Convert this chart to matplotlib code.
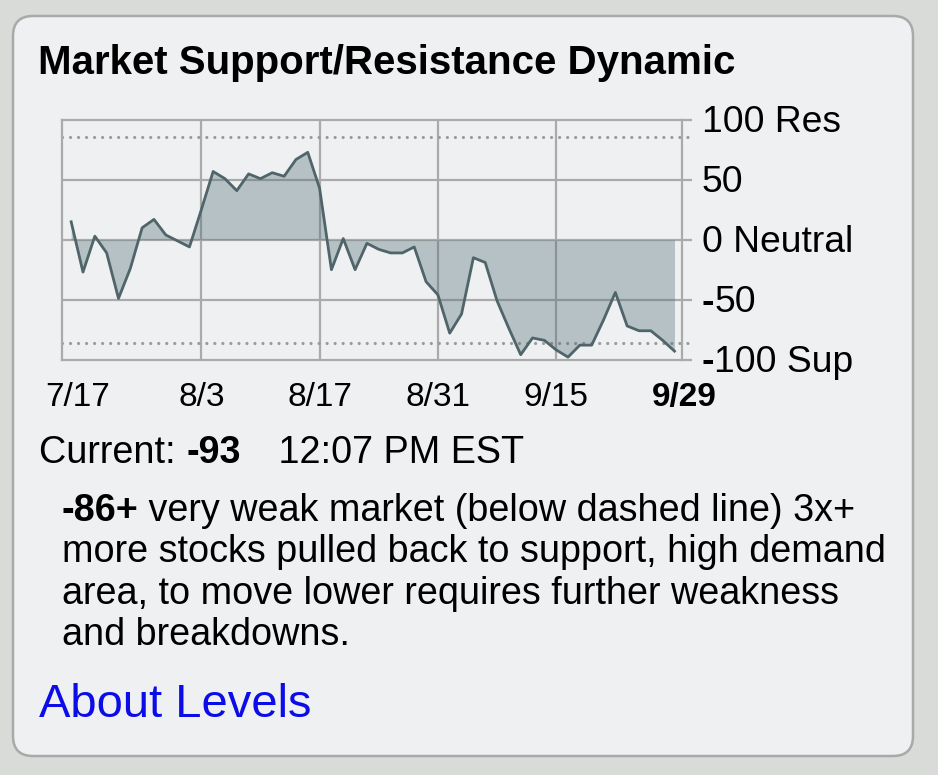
import matplotlib
matplotlib.use("Agg")
import matplotlib.pyplot as plt
from matplotlib.patches import FancyBboxPatch

plt.rcParams['font.family'] = ['Liberation Sans', 'DejaVu Sans']

# daily readings, 7/19 .. 9/29 (trading days)
values = [15, -27, 3, -11, -49, -24, 10, 17, 4, -1, -6, 25, 57, 51, 41, 55, 51, 56,
          53, 67, 73, 43, -25, 1, -25, -3, -8, -11, -11, -6, -35, -46, -78, -62,
          -15, -19, -51, -74, -96, -82, -84, -92, -98, -88, -88, -67, -44, -72,
          -76, -76, -84, -93]
days = list(range(len(values)))

date_labels = ['7/17', '8/3', '8/17', '8/31', '9/15', '9/29']
date_pos = [0.55, 11, 21, 31, 41, 51.8]
grid_days = [11, 21, 31, 41]

level_values = [100, 50, 0, -50, -100]
level_names = ['100 Res', '50', '0 Neutral', '-50', '-100 Sup']
band = 86

W, H = 938, 775
fig = plt.figure(figsize=(W / 100, H / 100), dpi=100)
fig.patch.set_facecolor('#d9dbd8')

# background axes in pixel units (y down)
bg = fig.add_axes([0, 0, 1, 1])
bg.set_xlim(0, W)
bg.set_ylim(H, 0)
bg.axis('off')
card = FancyBboxPatch((13, 16), 900, 740, boxstyle="round,pad=0,rounding_size=20",
                      facecolor='#eef0f2', edgecolor='#a8a9a8', linewidth=1.8)
bg.add_patch(card)

# chart
ax = fig.add_axes([61.7 / W, 1 - 359.5 / H, 620.6 / W, 239.5 / H])
ax.set_facecolor('none')
ax.set_xlim(-0.8, 51.66)
ax.set_ylim(-100, 100)
grid_col = '#aaaaaa'
for d in grid_days:
    ax.axvline(d, color=grid_col, lw=1.6, zorder=1)
for v in [50, 0, -50]:
    ax.axhline(v, color=grid_col, lw=1.6, zorder=1)
for v in [band, -band]:
    ax.axhline(v, xmin=0, xmax=1.017, color='#9a9a9a', lw=2.3, zorder=1.5,
               dashes=(0.01, 2.5), dash_capstyle='round', clip_on=False)
ax.fill_between(days, values, 0, color='#4f6a72', alpha=0.35, lw=0, zorder=2)
ax.plot(days, values, color='#4f6569', lw=2.0, zorder=3)

for s in ax.spines.values():
    s.set_color(grid_col)
    s.set_linewidth(1.6)
ax.set_xticks([])
ax.yaxis.tick_right()
ax.set_yticks(level_values)
ax.set_yticklabels([])
ax.tick_params(axis='y', direction='out', length=7.5, width=1.6, color=grid_col)

rend = fig.canvas.get_renderer()


def text_w(s, size, weight):
    t = bg.text(0, 0, s + '|', fontsize=size, fontweight=weight)
    t2 = bg.text(0, 0, '|', fontsize=size, fontweight=weight)
    w = t.get_window_extent(renderer=rend).width - t2.get_window_extent(renderer=rend).width
    t.remove()
    t2.remove()
    return w


def rich(x, y, parts, size, color='black'):
    for s, weight in parts:
        if isinstance(s, (int, float)):
            x += s
            continue
        bg.text(x, y, s, fontsize=size, fontweight=weight, color=color,
                ha='left', va='baseline')
        x += text_w(s, size, weight)


def to_px(xd, yd):
    dx, dy = ax.transData.transform((xd, yd))
    return dx, H - dy


label_size = 26.8
body = 27.2

# title
bg.text(38.5, 74, 'Market Support/Resistance Dynamic', fontsize=29, fontweight='bold',
        ha='left', va='baseline')

# right level labels
for v, name in zip(level_values, level_names):
    _, py = to_px(0, v)
    if name.startswith('-'):
        parts = [('-', 'bold'), (name[1:], 'normal')]
    else:
        parts = [(name, 'normal')]
    rich(701.7, py + 12, parts, label_size)

# date labels
for pos, lab in zip(date_pos, date_labels):
    px, _ = to_px(pos, 0)
    bg.text(px, 406, lab, fontsize=24, ha='center', va='baseline',
            fontweight='bold' if lab == date_labels[-1] else 'normal')

rich(38.9, 463.3, [('Current: ', 'normal'), ('-93', 'bold'), (6, None),
                   ('   12:07 PM EST', 'normal')], body)

para = [
    [('-86+', 'bold'), (' very weak market (below dashed line) 3x+', 'normal')],
    [('more stocks pulled back to support, high demand', 'normal')],
    [('area, to move lower requires further weakness', 'normal')],
    [('and breakdowns.', 'normal')],
]
for i, line in enumerate(para):
    rich(61.7, 520.7 + i * 41.4, line, body)

bg.text(38.9, 716.7, 'About Levels', fontsize=33.9, color='#0c0ce8', ha='left', va='baseline')

fig.savefig('out.png', dpi=100, facecolor=fig.get_facecolor())
